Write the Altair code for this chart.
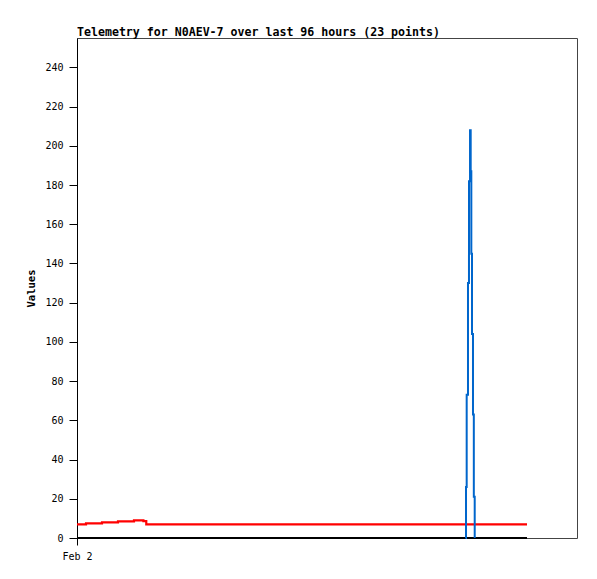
import altair as alt
import pandas as pd

# hours since start of window (Feb 2), values
red_hours = [0.0, 1.73, 4.8, 7.87, 10.94, 12.75, 13.3, 86.4]
red_vals = [7.0, 7.5, 8.0, 8.5, 9.0, 8.6, 7.0, 7.0]

black_hours = [0.0, 86.4]
black_vals = [0.0, 0.0]

blue_hours = [74.59, 74.69, 74.82, 75.07, 75.26, 75.46, 75.59, 75.71, 75.84, 76.03, 76.19, 76.36]
blue_vals = [0, 26, 73, 130, 182, 208, 187, 145, 104, 63, 21, 0]

x_ticks = [0]
y_ticks = list(range(0, 241, 20))

red = pd.DataFrame({"h": red_hours, "v": red_vals})
black = pd.DataFrame({"h": black_hours, "v": black_vals})
blue = pd.DataFrame({"h": blue_hours, "v": blue_vals})

FONT = "DejaVu Sans Mono"

x = alt.X("h:Q", scale=alt.Scale(domain=[0, 96], nice=False, zero=False),
          axis=alt.Axis(values=x_ticks, labelExpr="'Feb 2'", title=None, grid=False,
                        domain=False, ticks=True, tickColor="black", tickSize=7, tickWidth=1,
                        labelColor="black", labelFont=FONT, labelFontSize=10,
                        labelFlush=False, labelPadding=6))
y = alt.Y("v:Q", scale=alt.Scale(domain=[0, 255], nice=False),
          axis=alt.Axis(values=y_ticks, title="Values", grid=False, domain=True,
                        domainColor="black", domainWidth=1, tickColor="black",
                        tickSize=8, tickWidth=1, labelColor="black", labelFont=FONT,
                        labelFontSize=10, labelPadding=6, titleFont=FONT,
                        titleFontSize=10.5, titleFontWeight="bold", titleColor="black",
                        titlePadding=8))

l_black = alt.Chart(black).mark_line(color="black", strokeWidth=2.2).encode(x=x, y=y)
l_red = alt.Chart(red).mark_line(color="#ff0000", strokeWidth=2.2, interpolate="step-after").encode(x=x, y=y)
l_blue = alt.Chart(blue).mark_line(color="#0066cc", strokeWidth=2, interpolate="step-after").encode(x=x, y=y)

chart = alt.layer(l_black, l_red, l_blue).properties(
    width=500, height=500,
    title=alt.TitleParams("Telemetry for N0AEV-7 over last 96 hours (23 points)",
                          anchor="start", frame="group", font=FONT, fontSize=11.6,
                          fontWeight="bold", color="black", offset=-1),
    autosize=alt.AutoSizeParams(type="none"),
    padding={"left": 69, "top": 30, "right": 12, "bottom": 33},
).configure(background="white").configure_view(stroke="#444444", strokeWidth=1)

chart.save("out.html", embed_options={"renderer": "svg", "actions": False})
